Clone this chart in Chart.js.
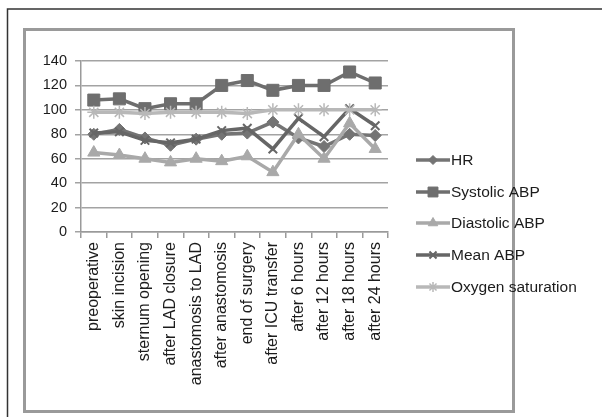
<!DOCTYPE html>
<html>
<head>
<meta charset="utf-8">
<script src="https://cdn.jsdelivr.net/npm/chart.js@4/dist/chart.umd.min.js"></script>
<style>
  html, body { margin: 0; padding: 0; background: #fff; }
  #wrap { position: relative; width: 602px; height: 417px; }
</style>
</head>
<body>
<div id="wrap"><canvas id="c" width="602" height="417"></canvas></div>
<script>
// Measurement time points
const categories = [
  'preoperative', 'skin incision', 'sternum opening', 'after LAD closure',
  'anastomosis to LAD', 'after anastomosis', 'end of surgery', 'after ICU transfer',
  'after 6 hours', 'after 12 hours', 'after 18 hours', 'after 24 hours'
];

// Haemodynamic series
const hr          = [80, 84, 77, 71, 76, 80, 81, 90, 77, 70, 80, 79];
const systolicABP = [108, 109, 101, 105, 105, 120, 124, 116, 120, 120, 131, 122];
const diastolicABP= [65, 63, 60, 57, 60, 58, 62, 49, 80, 60, 89, 68];
const meanABP     = [81, 82, 75, 73, 76, 83, 85, 68, 93, 78, 101, 87];
const oxygenSat   = [98, 98, 97, 98, 98, 98, 97, 100, 100, 100, 100, 100];

const seriesNames = ['HR', 'Systolic ABP', 'Diastolic ABP', 'Mean ABP', 'Oxygen saturation'];

// Value axis
const yMin = 0, yMax = 140, yStep = 20;

const FONT = "'Liberation Sans', Arial, sans-serif";
const TEXT = '#1c1c1c';

function series(label, data, color, pointStyle, radius, legendRadius, order, bw) {
  return {
    label, data,
    borderColor: color,
    backgroundColor: color,
    borderWidth: 3.5,
    pointStyle,
    pointRadius: radius,
    pointBorderWidth: bw,
    pointBackgroundColor: color,
    pointBorderColor: color,
    legendRadius,
    tension: 0,
    order
  };
}

// Page frames behind the chart
const framePlugin = {
  id: 'frames',
  beforeDraw(chart) {
    const ctx = chart.ctx;
    ctx.save();
    ctx.fillStyle = '#fff';
    ctx.fillRect(0, 0, chart.width, chart.height);
    ctx.strokeStyle = '#333';
    ctx.lineWidth = 1.5;
    ctx.beginPath();
    ctx.moveTo(7.5, 417);
    ctx.lineTo(7.5, 9);
    ctx.lineTo(602, 9);
    ctx.stroke();
    ctx.strokeStyle = '#9a9a9a';
    ctx.lineWidth = 3;
    ctx.strokeRect(24.5, 29.5, 489, 382);
    ctx.restore();
  }
};

// Legend: line sample with the series marker, then its name
const legendPlugin = {
  id: 'sideLegend',
  afterDraw(chart) {
    const ctx = chart.ctx;
    const ys = [160, 192, 223, 255, 287];
    ctx.save();
    chart.data.datasets.forEach((ds, i) => {
      const y = ys[i];
      ctx.strokeStyle = ds.borderColor;
      ctx.lineWidth = 3.5;
      ctx.beginPath();
      ctx.moveTo(416, y);
      ctx.lineTo(450, y);
      ctx.stroke();
      ctx.fillStyle = ds.backgroundColor;
      ctx.strokeStyle = ds.borderColor;
      ctx.lineWidth = ds.pointBorderWidth;
      Chart.helpers.drawPoint(ctx, {
        pointStyle: ds.pointStyle,
        radius: ds.legendRadius,
        rotation: 0,
        borderWidth: ds.pointBorderWidth
      }, 433, y);
      ctx.fillStyle = TEXT;
      ctx.font = '15.5px ' + FONT;
      ctx.textBaseline = 'middle';
      ctx.textAlign = 'left';
      ctx.fillText(ds.label, 451, y + 1);
    });
    ctx.restore();
  }
};

new Chart(document.getElementById('c'), {
  type: 'line',
  data: {
    labels: categories,
    datasets: [
      series(seriesNames[0], hr,           '#747474', 'rectRot',  6,   4.5, 5, 1),
      series(seriesNames[1], systolicABP,  '#6e6e6e', 'rect',     8.5, 7,   4, 1),
      series(seriesNames[2], diastolicABP, '#a9a9a9', 'triangle', 7,   5.5, 3, 1),
      series(seriesNames[3], meanABP,      '#666666', 'crossRot', 6,   5,   2, 2),
      series(seriesNames[4], oxygenSat,    '#b8b8b8', 'star',     6.5, 5,   1, 1.5)
    ]
  },
  options: {
    responsive: false,
    animation: false,
    devicePixelRatio: 1,
    layout: { padding: { left: 0, top: 61, right: 214, bottom: 0 } },
    plugins: {
      legend: { display: false },
      tooltip: { enabled: false }
    },
    scales: {
      x: {
        type: 'category',
        offset: true,
        afterFit(scale) { scale.height = 185; },
        border: { display: true, color: '#9a9a9a', width: 1.5 },
        grid: {
          offset: true,
          drawOnChartArea: false,
          drawTicks: true,
          tickLength: 6,
          color: '#9a9a9a',
          lineWidth: 1.5
        },
        ticks: {
          minRotation: 90,
          maxRotation: 90,
          autoSkip: false,
          padding: 4,
          color: TEXT,
          font: { family: FONT, size: 16 }
        }
      },
      y: {
        min: yMin,
        max: yMax,
        afterFit(scale) { scale.width = 81; },
        border: { display: true, color: '#9a9a9a', width: 1.5 },
        grid: {
          color: '#a3a3a3',
          lineWidth: 1.5,
          drawTicks: true,
          tickLength: 6
        },
        ticks: {
          stepSize: yStep,
          padding: 8,
          color: TEXT,
          font: { family: FONT, size: 14.5 }
        }
      }
    }
  },
  plugins: [framePlugin, legendPlugin]
});
</script>
</body>
</html>
